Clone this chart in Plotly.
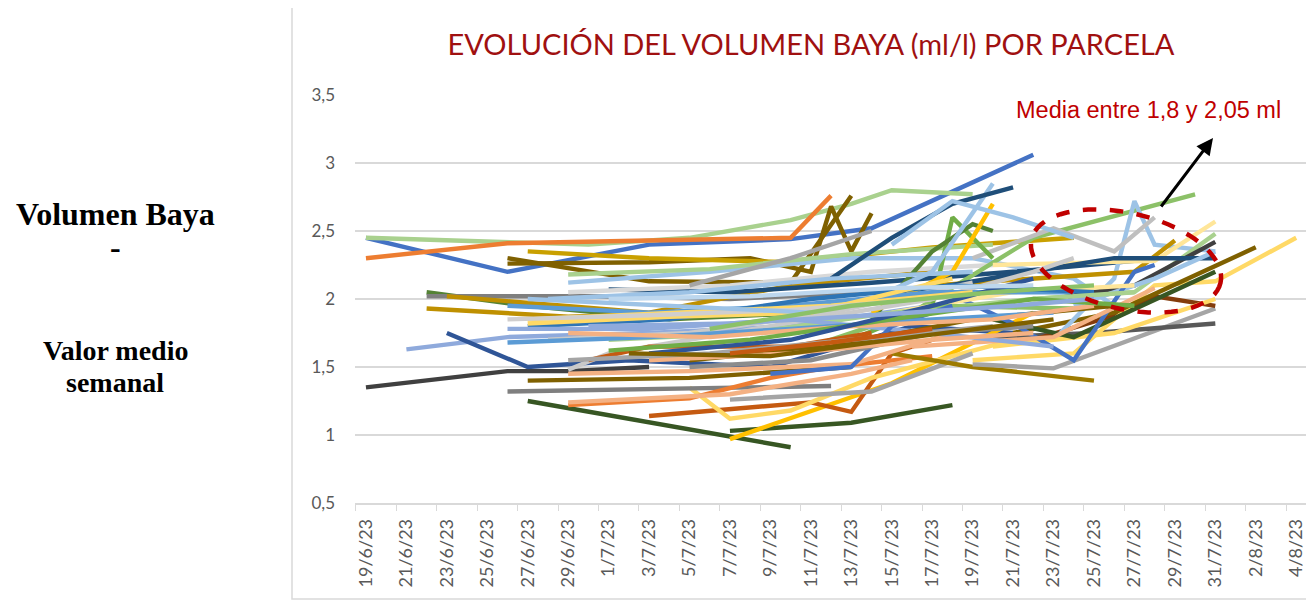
import math
import plotly.graph_objects as go

# ---------------- data ----------------
tick_labels = ["19/6/23", "21/6/23", "23/6/23", "25/6/23", "27/6/23", "29/6/23", "1/7/23", "3/7/23",
               "5/7/23", "7/7/23", "9/7/23", "11/7/23", "13/7/23", "15/7/23", "17/7/23", "19/7/23",
               "21/7/23", "23/7/23", "25/7/23", "27/7/23", "29/7/23", "31/7/23", "2/8/23", "4/8/23"]

s01 = [("19/6", 2.45), ("26/6", 2.2), ("3/7", 2.4), ("10/7", 2.44), ("14/7", 2.52), ("22/7", 3.06)]
s02 = [("19/6", 2.45), ("30/6", 2.4), ("5/7", 2.45), ("10/7", 2.58), ("13/7", 2.7), ("15/7", 2.8), ("19/7", 2.77)]
s03 = [("19/6", 2.3), ("26/6", 2.41), ("10/7", 2.45), ("12/7", 2.76)]
s04 = [("19/6", 1.35), ("26/6", 1.47), ("29/6", 1.47), ("3/7", 1.5)]
s05 = [("21/6", 1.63), ("26/6", 1.72), ("3/7", 1.75), ("10/7", 1.8), ("17/7", 1.95)]
s06 = [("23/6", 1.75), ("27/6", 1.5), ("2/7", 1.55), ("9/7", 1.5), ("16/7", 1.8), ("21/7", 1.75)]
s07 = [("22/6", 2.05), ("27/6", 1.95), ("4/7", 1.85), ("11/7", 1.9)]
s08 = [("22/6", 2.02), ("30/6", 2.02), ("7/7", 2.0), ("14/7", 2.05)]
s09 = [("23/6", 2.02), ("3/7", 1.9), ("10/7", 2.1), ("17/7", 2.2)]
s10 = [("22/6", 1.93), ("29/6", 1.87), ("6/7", 1.9), ("13/7", 1.95)]
s11 = [("26/6", 2.3), ("3/7", 2.13), ("10/7", 2.12), ("13/7", 2.76)]
s12 = [("26/6", 2.26), ("3/7", 2.27), ("8/7", 2.3), ("11/7", 2.2), ("12/7", 2.68), ("13/7", 2.35), ("14/7", 2.63)]
s13 = [("27/6", 2.35), ("3/7", 2.3), ("10/7", 2.27), ("17/7", 2.38), ("24/7", 2.45)]
s14 = [("29/6", 2.12), ("6/7", 2.2), ("13/7", 2.3), ("19/7", 2.3), ("24/7", 2.15), ("26/7", 1.95)]
s15 = [("1/7", 2.07), ("7/7", 2.05), ("14/7", 2.12), ("21/7", 2.2), ("27/7", 2.28)]
s16 = [("29/6", 2.05), ("7/7", 2.1), ("14/7", 2.2), ("20/7", 2.25)]
s17 = [("29/6", 2.18), ("6/7", 2.22), ("13/7", 2.33), ("20/7", 2.4)]
s18 = [("27/6", 1.25), ("10/7", 0.91)]
s19 = [("7/7", 1.03), ("13/7", 1.09), ("18/7", 1.22)]
s20 = [("7/7", 0.97), ("15/7", 1.38), ("22/7", 1.9)]
s21 = [("3/7", 1.14), ("11/7", 1.24), ("13/7", 1.17), ("15/7", 1.6), ("18/7", 1.75)]
s22 = [("5/7", 1.35), ("7/7", 1.12), ("10/7", 1.18), ("14/7", 1.42), ("21/7", 1.7)]
s23 = [("26/6", 1.32), ("12/7", 1.36)]
s24 = [("7/7", 1.26), ("14/7", 1.32), ("19/7", 1.6)]
s25 = [("29/6", 1.22), ("5/7", 1.27), ("9/7", 1.42), ("12/7", 1.5), ("17/7", 1.58)]
s26 = [("29/6", 1.24), ("7/7", 1.3), ("13/7", 1.45), ("16/7", 1.55)]
s27 = [("27/6", 1.4), ("5/7", 1.42), ("13/7", 1.5)]
s28 = [("15/7", 1.6), ("19/7", 1.5), ("25/7", 1.4)]
s29 = [("19/7", 1.52), ("23/7", 1.49), ("31/7", 1.93)]
s30 = [("20/7", 1.72), ("25/7", 1.75), ("31/7", 1.82)]
s31 = [("22/7", 1.7), ("26/7", 1.88), ("28/7", 2.02), ("31/7", 1.95)]
s32 = [("19/7", 1.55), ("24/7", 1.6), ("28/7", 2.1), ("31/7", 2.13), ("4/8", 2.45)]
s33 = [("21/7", 1.75), ("26/7", 1.9), ("2/8", 2.38)]
s34 = [("16/7", 1.9), ("22/7", 2.45), ("30/7", 2.77)]
s35 = [("23/7", 1.7), ("26/7", 2.15), ("27/7", 2.72), ("28/7", 2.4), ("31/7", 2.35)]
s36 = [("19/7", 2.3), ("23/7", 2.52), ("26/7", 2.35), ("28/7", 2.6)]
s37 = [("17/7", 2.1), ("27/7", 2.2), ("29/7", 2.43)]
s38 = [("20/7", 2.25), ("28/7", 2.28), ("31/7", 2.57)]
s39 = [("20/7", 1.65), ("26/7", 1.75), ("31/7", 2.0)]
s40 = [("20/7", 1.85), ("24/7", 1.72), ("31/7", 2.2)]
s41 = [("22/7", 2.0), ("27/7", 2.05), ("31/7", 2.48)]
s42 = [("23/7", 2.0), ("27/7", 2.1), ("31/7", 2.42)]
s43 = [("14/7", 2.0), ("21/7", 2.18), ("26/7", 2.3), ("31/7", 2.3)]
s44 = [("24/7", 1.95), ("28/7", 2.15), ("31/7", 2.35)]
s45 = [("17/7", 2.1), ("21/7", 1.82), ("24/7", 1.55), ("27/7", 2.2), ("28/7", 2.25)]
s46 = [("15/7", 1.9), ("21/7", 2.05), ("27/7", 2.1)]
s47 = [("16/7", 1.65), ("23/7", 1.72), ("28/7", 2.08)]
s48 = [("29/6", 1.45), ("5/7", 1.47), ("13/7", 1.52), ("18/7", 1.75)]
s49 = [("13/7", 1.7), ("17/7", 1.95), ("18/7", 2.6), ("20/7", 2.3)]
s50 = [("14/7", 1.85), ("17/7", 2.35), ("19/7", 2.55), ("20/7", 2.5)]
s51 = [("14/7", 2.0), ("17/7", 2.2), ("20/7", 2.85)]
s52 = [("12/7", 2.15), ("15/7", 2.45), ("18/7", 2.7), ("21/7", 2.82)]
s53 = [("14/7", 1.9), ("18/7", 2.2), ("20/7", 2.7)]
s54 = [("15/7", 2.4), ("18/7", 2.72), ("21/7", 2.6), ("24/7", 2.45)]
s55 = [("5/7", 2.1), ("10/7", 2.3), ("14/7", 2.5)]
s56 = [("29/6", 1.48), ("1/7", 1.6), ("9/7", 1.8), ("17/7", 2.0), ("22/7", 2.2), ("24/7", 2.3)]
s57 = [("28/6", 1.7), ("5/7", 1.75), ("12/7", 1.9), ("19/7", 2.12)]
s58 = [("26/6", 1.95), ("3/7", 1.9), ("10/7", 1.95), ("17/7", 2.05), ("24/7", 2.05)]
s59 = [("27/6", 1.8), ("4/7", 1.85), ("11/7", 2.0), ("18/7", 2.1), ("25/7", 2.05)]
s60 = [("27/6", 1.82), ("4/7", 1.87), ("11/7", 1.9), ("18/7", 2.15)]
s61 = [("1/7", 1.7), ("8/7", 1.75), ("15/7", 1.9), ("22/7", 2.0), ("27/7", 2.05)]
s62 = [("10/7", 1.6), ("17/7", 1.95), ("24/7", 1.93)]
s63 = [("26/6", 1.78), ("3/7", 1.78), ("10/7", 1.85), ("17/7", 1.75), ("23/7", 1.65)]
s64 = [("30/6", 1.55), ("3/7", 1.65), ("10/7", 1.65), ("14/7", 1.75)]
s65 = [("5/7", 1.55), ("12/7", 1.65), ("19/7", 1.85), ("26/7", 1.95)]
s66 = [("9/7", 1.45), ("13/7", 1.5), ("15/7", 1.8), ("18/7", 1.95)]
s67 = [("5/7", 1.5), ("11/7", 1.55), ("17/7", 1.75), ("22/7", 1.8)]
s68 = [("28/6", 2.0), ("5/7", 2.05), ("12/7", 2.15), ("19/7", 2.2)]
s69 = [("26/6", 1.68), ("3/7", 1.72), ("10/7", 1.78), ("17/7", 1.85), ("23/7", 1.9)]
s70 = [("29/6", 1.75), ("6/7", 1.72), ("13/7", 1.8), ("20/7", 1.85), ("25/7", 1.95)]
s71 = [("27/6", 1.85), ("5/7", 1.9), ("12/7", 1.95), ("19/7", 2.05)]
s72 = [("26/6", 1.85), ("3/7", 1.88), ("10/7", 1.92), ("17/7", 2.0)]
s73 = [("1/7", 1.62), ("8/7", 1.7), ("15/7", 1.85), ("22/7", 2.0), ("27/7", 1.95)]
s74 = [("3/7", 1.6), ("10/7", 1.7), ("17/7", 1.95), ("22/7", 2.15)]
s75 = [("3/7", 1.55), ("10/7", 1.6), ("17/7", 1.7), ("22/7", 1.75)]
s76 = [("29/6", 1.55), ("6/7", 1.6), ("13/7", 1.7), ("20/7", 1.8)]
s77 = [("30/6", 1.8), ("7/7", 1.82), ("14/7", 1.88), ("21/7", 1.95), ("25/7", 2.0)]
s78 = [("2/7", 1.6), ("9/7", 1.58), ("16/7", 1.72), ("23/7", 1.85)]
s79 = [("1/7", 2.0), ("8/7", 2.02), ("15/7", 2.08), ("22/7", 2.1)]
s80 = [("7/7", 1.6), ("12/7", 1.68), ("17/7", 1.78)]
s81 = [("27/6", 2.0), ("4/7", 1.95), ("11/7", 1.9)]
s82 = [("6/7", 1.78), ("13/7", 1.95), ("20/7", 2.05), ("25/7", 2.1)]

series = [s01, s02, s03, s04, s05, s06, s07, s08, s09, s10, s11, s12, s13, s14, s15, s16, s17,
          s18, s19, s20, s21, s22, s23, s24, s25, s26, s27, s28, s29, s30, s31, s32, s33, s34,
          s35, s36, s37, s38, s39, s40, s41, s42, s43, s44, s45, s46, s47, s48, s49, s50, s51,
          s52, s53, s54, s55, s56, s57, s58, s59, s60, s61, s62, s63, s64, s65, s66, s67, s68,
          s69, s70, s71, s72, s73, s74, s75, s76, s77, s78, s79, s80, s81, s82]

# ---------------- styles ----------------
colors = ["#4472C4", "#A9D18E", "#ED7D31", "#404040", "#8FAADC", "#2F5597", "#548235", "#7F7F7F",
          "#BF9000", "#BF9000", "#7F6000", "#7F6000", "#C9A000", "#9DC3E6", "#1F4E79", "#D9D9D9",
          "#A9D18E", "#375623", "#385723", "#FFC000", "#C55A11", "#FFD966", "#7F7F7F", "#A5A5A5",
          "#ED7D31", "#F4B183", "#7F6000", "#9C7A00", "#A5A5A5", "#595959", "#843C0C", "#FFD966",
          "#7F6000", "#8CC168", "#9DC3E6", "#BFBFBF", "#BF9000", "#FFE699", "#FFD966", "#375623",
          "#A9D18E", "#404040", "#1F4E79", "#9DC3E6", "#4472C4", "#FFE699", "#F4B183", "#F4B183",
          "#70AD47", "#548235", "#9DC3E6", "#1F4E79", "#FFC000", "#9DC3E6", "#A5A5A5", "#C9C9C9",
          "#C9C9C9", "#5B9BD5", "#2E75B6", "#FFD966", "#A9D18E", "#8CC168", "#8FAADC", "#C55A11",
          "#806000", "#4472C4", "#8C8C8C", "#9DC3E6", "#5B9BD5", "#F4B183", "#FFD966", "#D0CECE",
          "#70AD47", "#2F5597", "#F4B183", "#A5A5A5", "#8FAADC", "#7F6000", "#BDD7EE", "#C55A11",
          "#9DC3E6", "#8CC168"]


def to_date(s):
    d, m = s.split("/")
    return "2023-%02d-%02d" % (int(m), int(d))


tick_vals = [to_date(t.rsplit("/", 1)[0]) for t in tick_labels]

fig = go.Figure()
for i, s in enumerate(series):
    fig.add_trace(go.Scatter(
        x=[to_date(d) for d, v in s], y=[v for d, v in s], mode="lines",
        line=dict(color=colors[i % len(colors)], width=4.4), showlegend=False, hoverinfo="skip"))

# page has an 8px body margin: work in reference pixels and shift by OFF
OFF = 8
W, H = 1314 - OFF, 601 - OFF
PL, PR, PT, PB = 355, 1300 + OFF, 95, 503  # plot area in reference pixels
L, T = PL - OFF, PT - OFF
R, B = W - (PR - OFF), H - (PB - OFF)
pw, ph = PR - PL, PB - PT


def px(x):
    return (x - PL) / pw


def py(y):
    return (PB - y) / ph


font_tick = "Lato, Calibri, sans-serif"

fig.update_layout(
    width=W, height=H, margin=dict(l=L, r=R, t=T, b=B),
    paper_bgcolor="white", plot_bgcolor="white", separators=",.",
    xaxis=dict(type="date", range=["2023-06-18 11:00", "2023-08-04 14:00"],
               tickvals=tick_vals, ticktext=tick_labels, tickangle=-90, ticks="",
               tickfont=dict(family=font_tick, size=18, color="#595959"), ticklabelstandoff=7,
               showgrid=False, showline=True, linecolor="#D9D9D9", linewidth=1.5,
               minor=dict(tick0="2023-06-18 12:00", dtick=2 * 86400000, ticks="outside",
                          ticklen=6, tickcolor="#D9D9D9", showgrid=False),
               zeroline=False, fixedrange=True),
    yaxis=dict(range=[0.5, 3.5], dtick=0.5, tick0=0.5, showgrid=True, gridcolor="#D9D9D9",
               gridwidth=1.5, zeroline=False, showline=False, ticks="",
               tickfont=dict(family=font_tick, size=17, color="#595959"), ticklabelstandoff=19),
    title=dict(text="EVOLUCIÓN DEL VOLUMEN BAYA (ml/l) POR PARCELA", xref="paper", x=px(811),
               xanchor="center", yref="container", y=1 - (45 - OFF) / H, yanchor="middle",
               font=dict(family="Lato, Calibri, sans-serif", size=29, color="#A01010")),
)

# chart frame
fig.add_shape(type="rect", xref="paper", yref="paper", x0=px(292), x1=px(1313), y0=py(599), y1=py(3),
              line=dict(color="#D9D9D9", width=1.5), fillcolor="rgba(0,0,0,0)", layer="below")

# dashed tilted ellipse
cx, cy, a, b, ang = 1126, 261, 97, 48, math.radians(13)
pts = []
for k in range(73):
    t = 2 * math.pi * k / 72
    ex = cx + a * math.cos(t) * math.cos(ang) - b * math.sin(t) * math.sin(ang)
    ey = cy + a * math.cos(t) * math.sin(ang) + b * math.sin(t) * math.cos(ang)
    pts.append((px(ex), py(ey)))
path = "M " + " L ".join("%.5f,%.5f" % p for p in pts) + " Z"
fig.add_shape(type="path", xref="paper", yref="paper", path=path,
              line=dict(color="#C00000", width=4.5, dash="dash"))

# arrow
fig.add_annotation(xref="paper", yref="paper", x=px(1213), y=py(138), ax=-53, ay=70, text="",
                   showarrow=True, arrowhead=2, arrowsize=1.1, arrowwidth=3, arrowcolor="black")

fig.add_annotation(xref="paper", yref="paper", x=px(1148), y=py(110), text="Media entre 1,8 y 2,05 ml",
                   showarrow=False, xanchor="center", yanchor="middle",
                   font=dict(family="Liberation Sans, Arial", size=23.5, color="#C00000"))

# left side texts
serif = "Liberation Serif, Times New Roman, serif"
for txt, yy, sz in [("<b>Volumen Baya</b>", 214, 32), ("<b>-</b>", 247, 32),
                    ("<b>Valor medio</b>", 350, 28), ("<b>semanal</b>", 382, 28)]:
    fig.add_annotation(xref="paper", yref="paper", x=px(115), y=py(yy), text=txt, showarrow=False,
                       xanchor="center", yanchor="middle", font=dict(family=serif, size=sz, color="black"))

fig.write_html("out.html")
